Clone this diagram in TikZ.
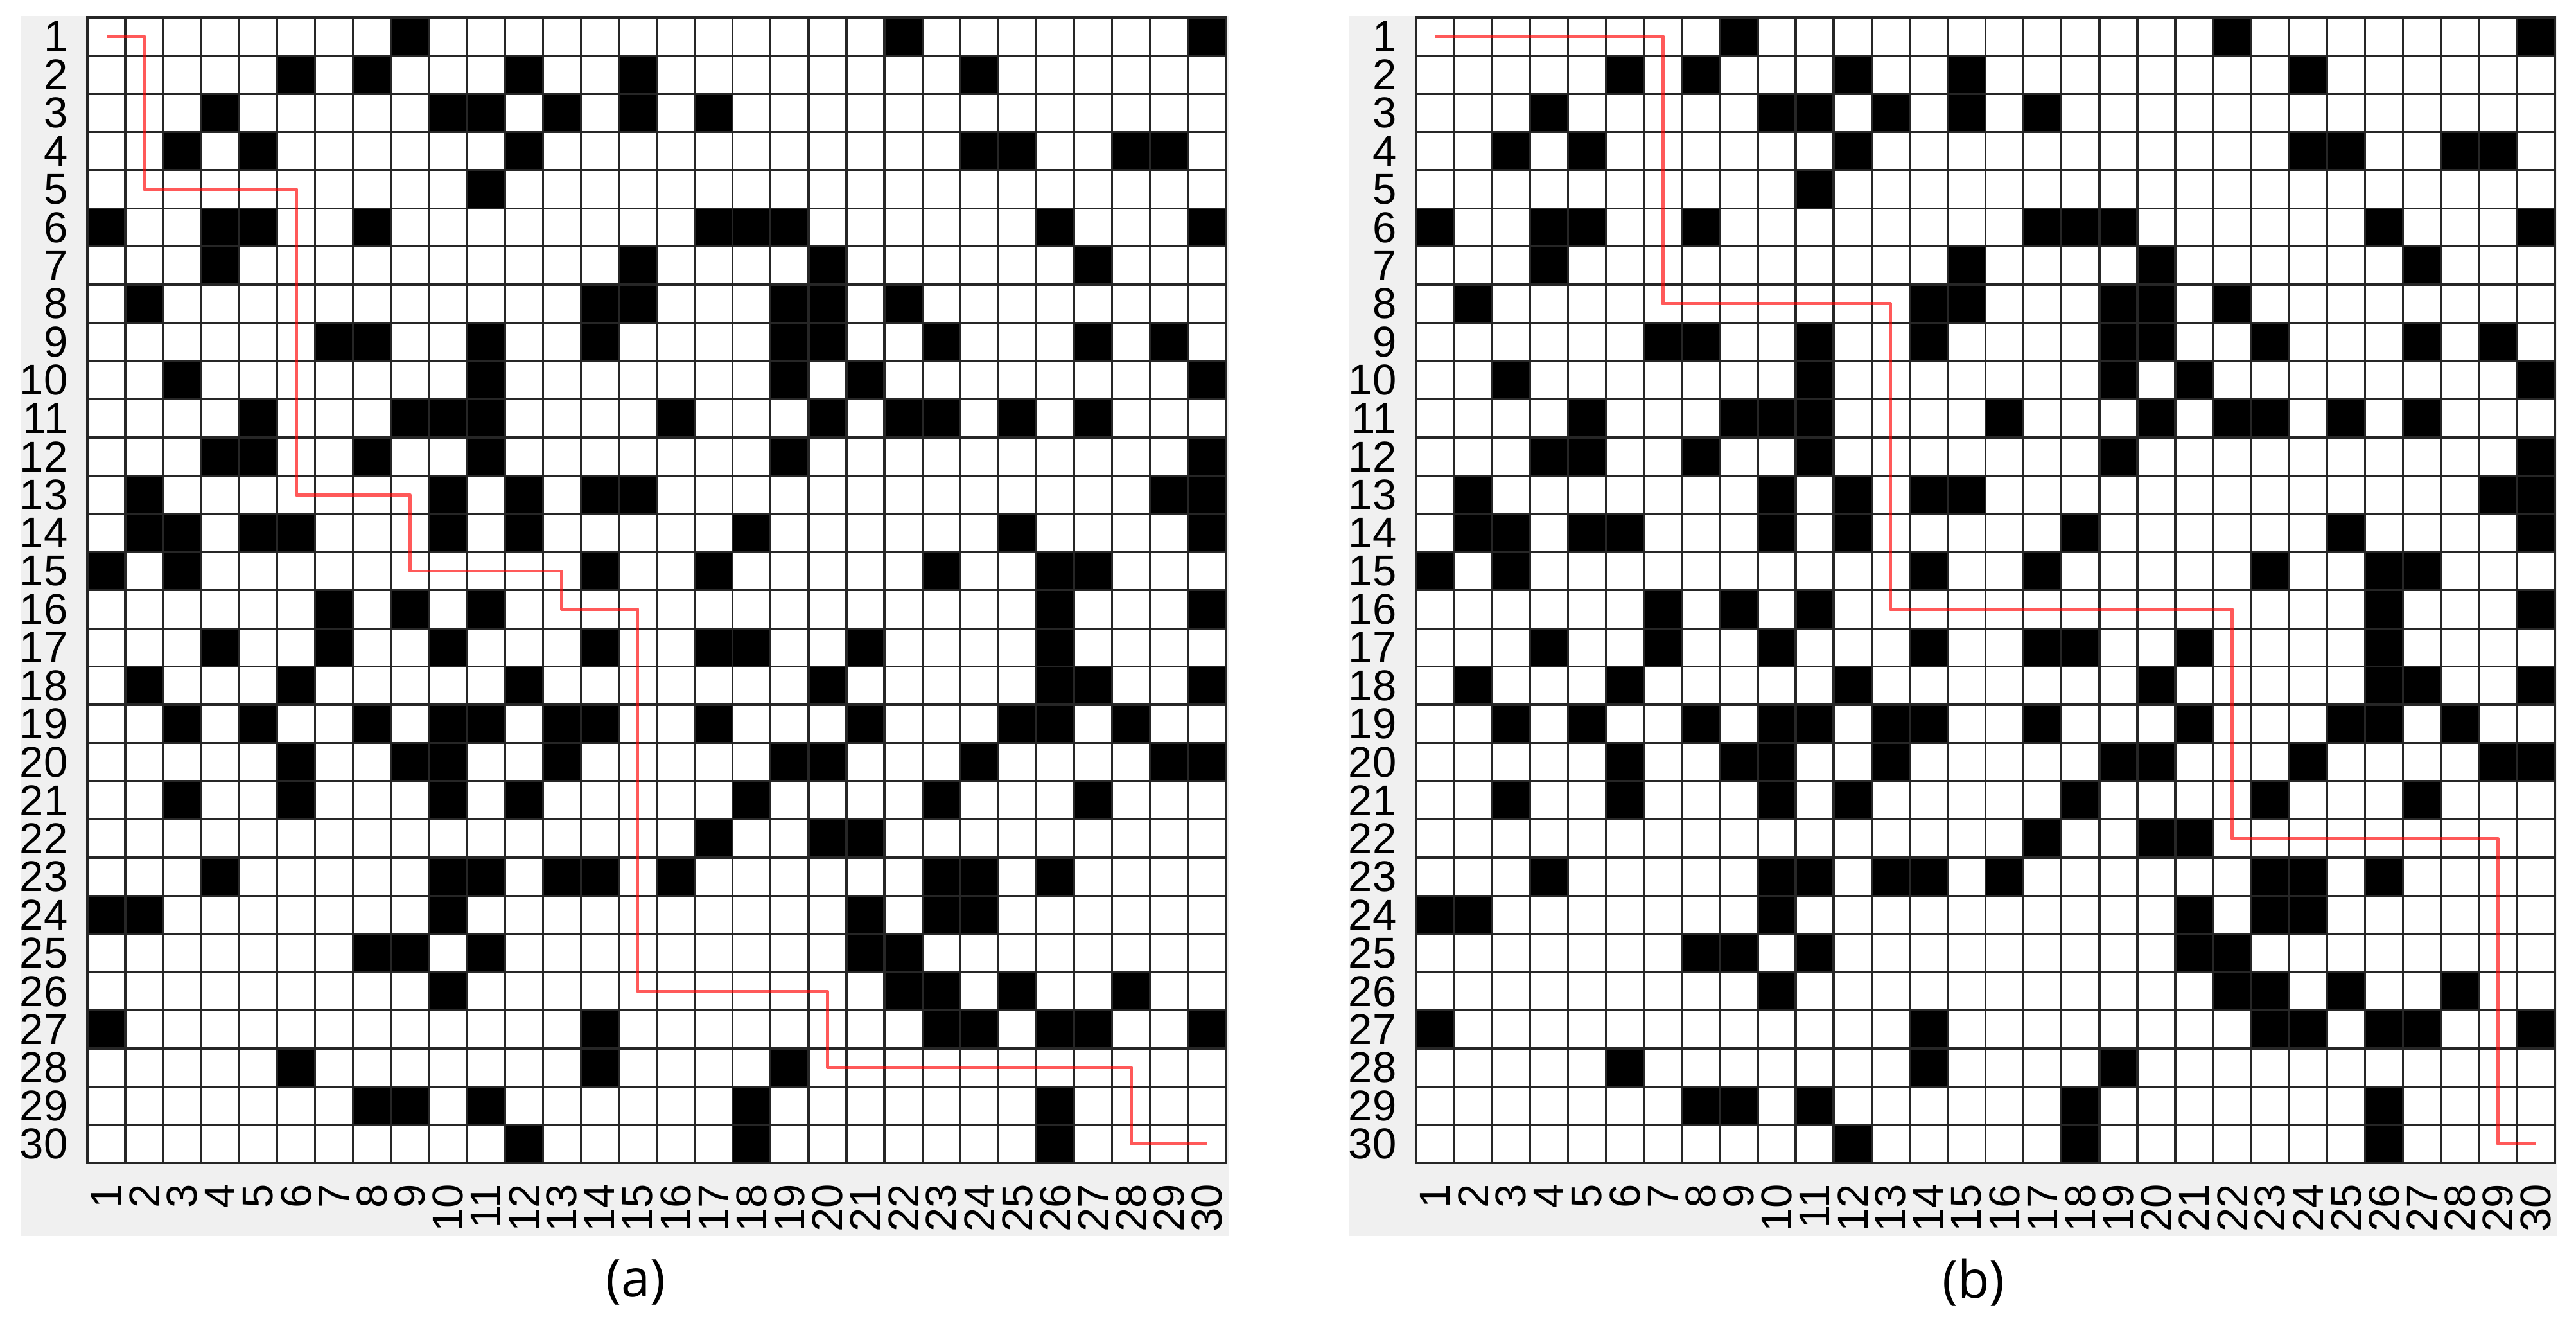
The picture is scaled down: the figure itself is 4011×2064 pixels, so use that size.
\documentclass[tikz,border=0pt]{standalone}
\usepackage{graphicx}
\usepackage{fontspec}
\setmainfont{Liberation Sans}
\newfontfamily\capfont{Open Sans}
\definecolor{panelgray}{RGB}{240,240,240}
\tikzset{
  lab/.style={inner sep=0pt, font=\fontsize{19.06pt}{20pt}\selectfont},
  gridln/.style={line width=0.95pt, draw=black!85},
  pathln/.style={line width=1.4pt, draw=red, opacity=0.65, line join=round},
  captxt/.style={inner sep=0pt, font=\capfont\fontsize{23pt}{24pt}\selectfont},
}
\def\csx{59.1}
\def\csy{59.45}
\def\blackcells{1/9,1/22,1/30,
2/6,2/8,2/12,2/15,2/24,
3/4,3/10,3/11,3/13,3/15,3/17,
4/3,4/5,4/12,4/24,4/25,4/28,4/29,
5/11,
6/1,6/4,6/5,6/8,6/17,6/18,6/19,6/26,6/30,
7/4,7/15,7/20,7/27,
8/2,8/14,8/15,8/19,8/20,8/22,
9/7,9/8,9/11,9/14,9/19,9/20,9/23,9/27,9/29,
10/3,10/11,10/19,10/21,10/30,
11/5,11/9,11/10,11/11,11/16,11/20,11/22,11/23,11/25,11/27,
12/4,12/5,12/8,12/11,12/19,12/30,
13/2,13/10,13/12,13/14,13/15,13/29,13/30,
14/2,14/3,14/5,14/6,14/10,14/12,14/18,14/25,14/30,
15/1,15/3,15/14,15/17,15/23,15/26,15/27,
16/7,16/9,16/11,16/26,16/30,
17/4,17/7,17/10,17/14,17/17,17/18,17/21,17/26,
18/2,18/6,18/12,18/20,18/26,18/27,18/30,
19/3,19/5,19/8,19/10,19/11,19/13,19/14,19/17,19/21,19/25,19/26,19/28,
20/6,20/9,20/10,20/13,20/19,20/20,20/24,20/29,20/30,
21/3,21/6,21/10,21/12,21/18,21/23,21/27,
22/17,22/20,22/21,
23/4,23/10,23/11,23/13,23/14,23/16,23/23,23/24,23/26,
24/1,24/2,24/10,24/21,24/23,24/24,
25/8,25/9,25/11,25/21,25/22,
26/10,26/22,26/23,26/25,26/28,
27/1,27/14,27/23,27/24,27/26,27/27,27/30,
28/6,28/14,28/19,
29/8,29/9,29/11,29/18,29/26,
30/12,30/18,30/26}
\def\patha{1/1,2/1,2/5,6/5,6/13,9/13,9/15,13/15,13/16,15/16,15/26,20/26,20/28,28/28,28/30,30/30}
\def\pathb{1/1,7/1,7/8,13/8,13/16,22/16,22/22,29/22,29/30,30/30}
\begin{document}
\begin{tikzpicture}[x=0.01cm,y=-0.01cm]
\useasboundingbox (0,0) rectangle (4011,2064);
\fill[white] (0,0) rectangle (4011,2064);
\foreach \ox/\p/\px in {136/a/32, 2205/b/2101} {
  \fill[panelgray] (\px,25) rectangle ({\ox+30*\csx+4},1924);
  \fill[white] (\ox,27) rectangle ({\ox+30*\csx},{27+30*\csy});
  \foreach \r/\c in \blackcells {
    \fill[black] ({\ox+(\c-1)*\csx},{27+(\r-1)*\csy}) rectangle ++(\csx,\csy);
  }
  \foreach \i in {1,...,29} {
    \draw[gridln] ({\ox+\i*\csx},27) -- ++(0,{30*\csy});
    \draw[gridln] (\ox,{27+\i*\csy}) -- ++({30*\csx},0);
  }
  \draw[gridln] (\ox,27) rectangle ++({30*\csx},{30*\csy});
  \foreach \k in {1,...,30} {
    \node[lab, anchor=east] (row\p\k) at ({\ox-30},{27+(\k-0.5)*\csy}) {\k};
    \node[lab, anchor=east, rotate=90] (col\p\k) at ({\ox+(\k-0.5)*\csx},{27+30*\csy+32}) {\k};
  }
}
\foreach \c/\r [count=\n] in \patha {
  \coordinate (pa\n) at ({136+(\c-0.5)*\csx},{27+(\r-0.5)*\csy});
}
\foreach \c/\r [count=\n] in \pathb {
  \coordinate (pb\n) at ({2205+(\c-0.5)*\csx},{27+(\r-0.5)*\csy});
}
\draw[pathln] (pa1) \foreach \n in {2,...,16} { -- (pa\n) };
\draw[pathln] (pb1) \foreach \n in {2,...,10} { -- (pb\n) };
\node[captxt] (capa) at (990,1996) {(a)};
\node[captxt] (capb) at (3073,1996) {(b)};
\end{tikzpicture}
\end{document}
